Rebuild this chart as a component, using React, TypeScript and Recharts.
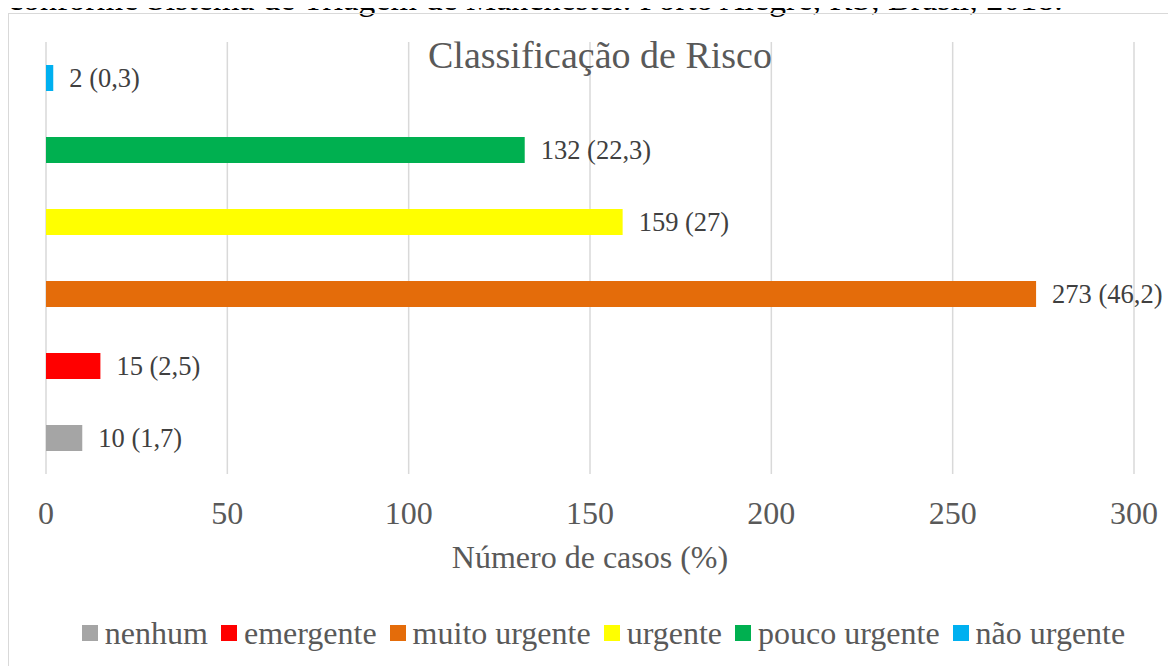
import React from "react";
import {
  BarChart,
  Bar,
  XAxis,
  YAxis,
  CartesianGrid,
  Cell,
  LabelList,
  Legend,
  Label,
} from "recharts";

// Categories in legend order (bottom bar first)
const categories = [
  "nenhum",
  "emergente",
  "muito urgente",
  "urgente",
  "pouco urgente",
  "não urgente",
];
const cases = [10, 15, 273, 159, 132, 2];
const percents = [1.7, 2.5, 46.2, 27, 22.3, 0.3];
const colors = ["#A5A5A5", "#FF0000", "#E46C0A", "#FFFF00", "#00B050", "#00B0F0"];
const xTicks = [0, 50, 100, 150, 200, 250, 300];

const data = categories.map((name, i) => ({
  name,
  value: cases[i],
  label: `${cases[i]} (${String(percents[i]).replace(".", ",")})`,
}));

const FONT = '"Liberation Serif", "Times New Roman", Times, serif';

const renderLegend = () => (
  <div
    style={{
      display: "flex",
      justifyContent: "center",
      alignItems: "center",
      fontFamily: FONT,
      fontSize: 32,
      color: "#595959",
      lineHeight: "40px",
      height: 40,
      paddingLeft: 32,
    }}
  >
    {categories.map((c, i) => (
      <div key={c} style={{ display: "flex", alignItems: "center", marginRight: 13 }}>
        <span
          style={{
            display: "inline-block",
            width: 16,
            height: 16,
            background: colors[i],
            marginRight: 7,
          }}
        />
        <span>{c}</span>
      </div>
    ))}
  </div>
);

export default function App() {
  return (
    <div style={{ position: "relative", fontFamily: FONT }}>
      <div
        style={{
          position: "absolute",
          top: -31,
          left: 0,
          fontSize: 34,
          lineHeight: "34px",
          whiteSpace: "nowrap",
          color: "#000",
        }}
      >
        conforme Sistema de Triagem de Manchester. Porto Alegre, RS, Brasil, 2018.
      </div>
      <div
        style={{
          marginTop: 5,
          width: 1180,
          height: 660,
          border: "1px solid #D9D9D9",
          position: "relative",
          boxSizing: "border-box",
        }}
      >
        <div
          style={{
            position: "absolute",
            top: 19,
            left: 0,
            width: 1180,
            textAlign: "center",
            fontSize: 38,
            color: "#595959",
            zIndex: 2,
            paddingLeft: 2,
            boxSizing: "border-box",
          }}
        >
          Classificação de Risco
        </div>
        <BarChart
          width={1170}
          height={655}
          data={data}
          layout="vertical"
          margin={{ top: 28, right: 45, left: 37, bottom: 16 }}
        >
          <CartesianGrid horizontal={false} stroke="#D9D9D9" strokeWidth={1.5} />
          <XAxis
            type="number"
            domain={[0, 300]}
            ticks={xTicks}
            axisLine={false}
            tickLine={false}
            tickSize={0}
            tickMargin={27}
            height={139}
            tick={{ fontSize: 32, fill: "#595959", fontFamily: FONT }}
            interval={0}
          >
            <Label
              content={(props: any) => {
                const vb = props.viewBox || {};
                return (
                  <text
                    x={vb.x + vb.width / 2}
                    y={vb.y + 94}
                    textAnchor="middle"
                    fontSize={32}
                    fill="#595959"
                    fontFamily={FONT}
                  >
                    Número de casos (%)
                  </text>
                );
              }}
            />
          </XAxis>
          <YAxis type="category" dataKey="name" hide reversed />
          <Legend
            verticalAlign="bottom"
            content={renderLegend}
            wrapperStyle={{ left: 0, width: 1170, height: 40 }}
          />
          <Bar dataKey="value" barSize={26} isAnimationActive={false}>
            {data.map((d, i) => (
              <Cell key={d.name} fill={colors[i]} />
            ))}
            <LabelList
              dataKey="label"
              position="right"
              offset={16}
              fill="#404040"
              fontSize={26.5}
              fontFamily={FONT}
            />
          </Bar>
        </BarChart>
      </div>
    </div>
  );
}
